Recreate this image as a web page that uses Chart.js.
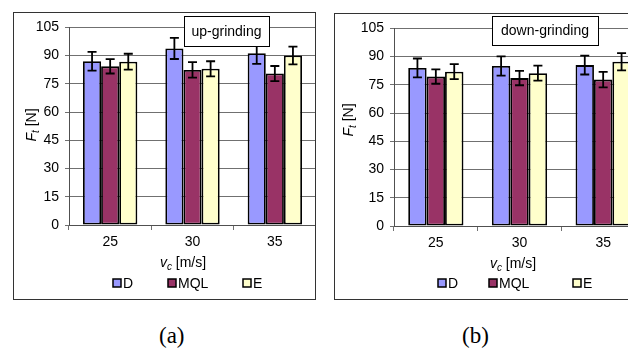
<!DOCTYPE html>
<html>
<head>
<meta charset="utf-8">
<script src="https://cdn.jsdelivr.net/npm/chart.js@4"></script>
<style>
  html, body { margin: 0; padding: 0; background: #fff; overflow: hidden; width: 628px; height: 351px; }
  .frame { position: absolute; border: 1px solid #333; box-sizing: border-box; overflow: hidden; background: #fff; }
  .cap { position: absolute; font-family: "Liberation Serif", "Times New Roman", serif; font-size: 23px; color: #000; }
</style>
</head>
<body>
<div class="frame" style="left:13px; top:12px; width:303px; height:288px;">
  <canvas id="up" width="302" height="286"></canvas>
</div>
<div class="frame" style="left:334px; top:13px; width:310px; height:287px;">
  <canvas id="down" width="310" height="286"></canvas>
</div>
<div class="cap" style="left:159px; top:323px;">(a)</div>
<div class="cap" style="left:462px; top:323px;">(b)</div>
<script>
const categories = ['25', '30', '35'];
const seriesNames = ['D', 'MQL', 'E'];
const colors = ['#9999ff', '#993366', '#ffffcc'];
const yTicks = [0, 15, 30, 45, 60, 75, 90, 105];

// up-grinding
const upD = [87.0, 93.8, 91.3];
const upMQL = [84.3, 82.4, 80.5];
const upE = [86.8, 83.0, 90.1];
const upDErr = [5.0, 5.6, 5.7];
const upMQLErr = [3.8, 4.1, 4.0];
const upEErr = [4.2, 4.0, 4.7];

// down-grinding
const downD = [84.0, 85.0, 85.5];
const downMQL = [79.4, 78.6, 77.8];
const downE = [82.0, 81.2, 87.3];
const downDErr = [5.0, 5.1, 5.0];
const downMQLErr = [3.8, 3.8, 4.1];
const downEErr = [4.0, 4.0, 4.6];

const FONT = '"Liberation Sans", Arial, sans-serif';

function makeChart(id, series, errs, cfg) {
  const ctx = document.getElementById(id).getContext('2d');

  const extras = {
    id: 'extras',
    afterDatasetsDraw(chart) {
      const c = chart.ctx;
      const y = chart.scales.y;
      c.save();
      c.strokeStyle = '#000';
      c.lineWidth = 1.8;
      chart.data.datasets.forEach((ds, i) => {
        chart.getDatasetMeta(i).data.forEach((bar, j) => {
          const v = ds.data[j], e = errs[i][j];
          const top = y.getPixelForValue(v + e), bot = y.getPixelForValue(v - e);
          c.beginPath();
          c.moveTo(bar.x, top); c.lineTo(bar.x, bot);
          c.moveTo(bar.x - 4.5, top); c.lineTo(bar.x + 4.5, top);
          c.moveTo(bar.x - 4.5, bot); c.lineTo(bar.x + 4.5, bot);
          c.stroke();
        });
      });
      c.restore();
    },
    afterDraw(chart) {
      const c = chart.ctx;
      c.save();
      // label box
      const b = cfg.box;
      c.fillStyle = '#fff';
      c.fillRect(b.x, b.y, b.w, b.h);
      c.strokeStyle = '#000';
      c.lineWidth = 1;
      c.strokeRect(b.x + 0.5, b.y + 0.5, b.w, b.h);
      c.fillStyle = '#000';
      c.font = '14px ' + FONT;
      c.textAlign = 'center';
      c.textBaseline = 'middle';
      c.fillText(b.text, b.x + b.w / 2, b.y + b.h / 2 + 1);

      // x title: v_c [m/s]
      const xt = cfg.xTitle;
      c.textAlign = 'left';
      c.textBaseline = 'alphabetic';
      c.font = 'italic 14px ' + FONT;
      const wv = c.measureText('v').width;
      c.font = 'italic 10px ' + FONT;
      const wc = c.measureText('c').width;
      c.font = '14px ' + FONT;
      const wr = c.measureText(' [m/s]').width;
      let x0 = xt.x - (wv + wc + wr) / 2;
      c.font = 'italic 14px ' + FONT;
      c.fillText('v', x0, xt.y);
      c.font = 'italic 10px ' + FONT;
      c.fillText('c', x0 + wv, xt.y + 3);
      c.font = '14px ' + FONT;
      c.fillText(' [m/s]', x0 + wv + wc, xt.y);

      // y title: F_t [N]
      const yt = cfg.yTitle;
      c.translate(yt.x, yt.y);
      c.rotate(-Math.PI / 2);
      c.font = 'italic 14px ' + FONT;
      const wf = c.measureText('F').width;
      c.font = 'italic 10px ' + FONT;
      const wt = c.measureText('t').width;
      c.font = '14px ' + FONT;
      const wn = c.measureText(' [N]').width;
      x0 = -(wf + wt + wn) / 2;
      c.font = 'italic 14px ' + FONT;
      c.fillText('F', x0, 0);
      c.font = 'italic 10px ' + FONT;
      c.fillText('t', x0 + wf, 3);
      c.font = '14px ' + FONT;
      c.fillText(' [N]', x0 + wf + wt, 0);
      c.setTransform(1, 0, 0, 1, 0, 0);

      // legend
      c.font = '14px ' + FONT;
      c.textBaseline = 'middle';
      seriesNames.forEach((n, i) => {
        const lx = cfg.legendX[i], ly = cfg.legendY;
        c.fillStyle = colors[i];
        c.fillRect(lx, ly - 4, 8, 8);
        c.strokeStyle = '#000';
        c.lineWidth = 1.5;
        c.strokeRect(lx, ly - 4, 8, 8);
        c.fillStyle = '#000';
        c.fillText(n, lx + 10, ly + 1);
      });
      c.restore();
    }
  };

  return new Chart(ctx, {
    type: 'bar',
    data: {
      labels: categories,
      datasets: series.map((s, i) => ({
        label: seriesNames[i],
        data: s,
        backgroundColor: colors[i],
        borderColor: '#000',
        borderWidth: 1.8,
        borderSkipped: false,
        categoryPercentage: 0.66,
        barPercentage: 1.0,
      }))
    },
    options: {
      responsive: false,
      animation: false,
      layout: { padding: { top: cfg.top, left: 0, right: 0, bottom: 0 } },
      plugins: {
        legend: { display: false },
        tooltip: { enabled: false },
      },
      scales: {
        x: {
          grid: { drawOnChartArea: false, tickLength: 5, color: '#707070', offset: true },
          border: { color: '#505050', width: 1 },
          ticks: { color: '#000', font: { family: FONT, size: 14 }, padding: 4 },
          afterFit(scale) { scale.height = cfg.xHeight; }
        },
        y: {
          min: 0,
          max: 105,
          afterBuildTicks(scale) { scale.ticks = yTicks.map(v => ({ value: v })); },
          grid: { color: '#707070', tickLength: 4 },
          border: { color: '#505050', width: 1 },
          ticks: { color: '#000', font: { family: FONT, size: 14 }, padding: 6 },
          afterFit(scale) { scale.width = cfg.yWidth; }
        }
      }
    },
    plugins: [extras]
  });
}

makeChart('up', [upD, upMQL, upE], [upDErr, upMQLErr, upEErr], {
  top: 11, xHeight: 74, yWidth: 55,
  box: { x: 170, y: 3, w: 85, h: 30, text: 'up-grinding' },
  xTitle: { x: 169, y: 254 },
  yTitle: { x: 22, y: 112 },
  legendX: [99, 154, 229],
  legendY: 270
});

makeChart('down', [downD, downMQL, downE], [downDErr, downMQLErr, downEErr], {
  top: 11, xHeight: 74, yWidth: 59,
  box: { x: 157, y: 2, w: 106, h: 29, text: 'down-grinding' },
  xTitle: { x: 178, y: 254 },
  yTitle: { x: 18, y: 106 },
  legendX: [103, 154, 238],
  legendY: 269
});
</script>
</body>
</html>
